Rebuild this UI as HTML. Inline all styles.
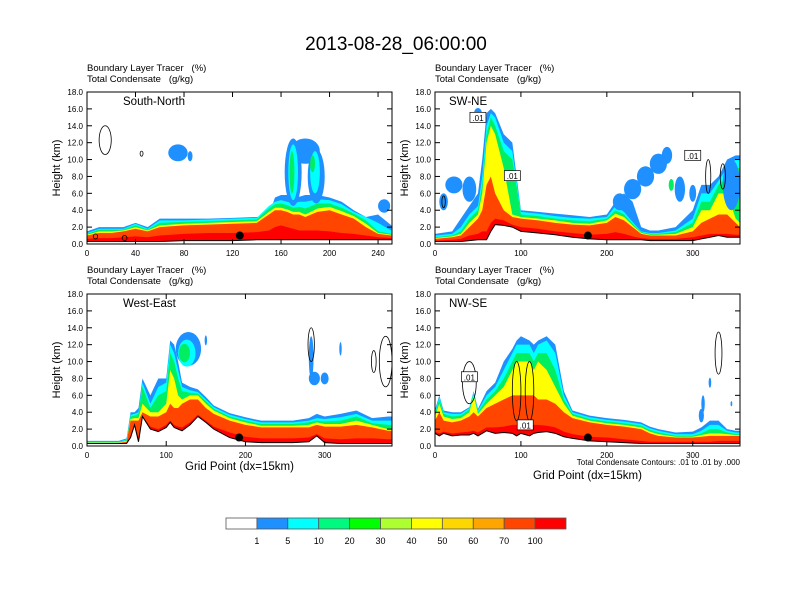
<!DOCTYPE html>
<html><head><meta charset="utf-8"><style>
body{margin:0;background:#fff;}
svg{display:block;font-family:"Liberation Sans",sans-serif;}
text{white-space:pre;}
</style></head><body>
<svg id="fig" width="792" height="612" viewBox="0 0 792 612">
<text x="396" y="50" text-anchor="middle" font-size="19">2013-08-28_06:00:00</text>
<g id="panels"></g>
<g id="cbar"></g>
</svg>
<script>
// ---- data ----
const levelColors = ["#1e90ff","#00ffff","#00ee60","#ffff00","#ff4500","#ff0000"];
const cbarColors = ["#ffffff","#1e90ff","#00ffff","#00fa80","#00ff00","#adff2f","#ffff00","#ffd700","#ffa500","#ff4500","#ff0000"];
const cbarLabels = ["1","5","10","20","30","40","50","60","70","100"];
const yTicks = [0,2,4,6,8,10,12,14,16,18];

// Panel A South-North
const aX = [0,10,20,30,40,50,60,80,100,120,140,150,155,160,165,170,175,180,190,200,210,220,230,240,251];
const aTerrain = [0.3,0.3,0.3,0.3,0.3,0.3,0.3,0.4,0.4,0.4,0.5,0.5,0.5,0.5,0.5,0.5,0.5,0.5,0.5,0.5,0.5,0.5,0.5,0.5,0.5];
const aRed = [0.6,0.7,0.7,0.8,0.9,0.8,1.0,1.2,1.3,1.3,1.4,1.6,2,2.2,2,1.8,1.6,1.6,1.6,1.5,1.3,1.2,1.0,0.8,0.7];
const aOrange = [1.0,1.3,1.3,1.5,1.8,1.5,2.0,2.2,2.3,2.4,2.5,3.5,4,4,3.8,3.5,3.5,3.2,3.8,4,3.5,3,2,1.2,1];
const aYellow = [1.1,1.5,1.5,1.6,2.0,1.6,2.2,2.4,2.5,2.6,2.7,3.8,4.3,4.3,4.1,3.8,3.8,3.5,4.2,4.4,3.9,3.3,2.4,1.3,1.1];
const aGreen = [1.2,1.7,1.7,1.7,2.2,1.7,2.5,2.6,2.7,2.8,2.9,4.2,4.7,4.8,4.6,4.3,4.4,4.2,4.8,4.8,4.3,3.6,2.8,1.5,1.2];
const aCyan = [1.3,1.8,1.8,1.8,2.4,1.8,2.8,2.8,2.9,3.0,3.1,4.5,5.0,5.2,5.0,4.8,5.0,5.0,5.3,5.2,4.7,3.8,3.2,2.5,1.6];
const aBlue = [1.5,2,2,2,2.5,2.0,3.0,3.0,3.0,3.1,3.2,3.4,5.5,5.8,5.8,5.6,5.6,5.8,5.8,5.5,5.0,4.0,3.2,3.5,2.2];
const aBlobs = [[75,10.8,8,1.0,0],[85,10.4,2,0.6,0],[170,8.5,7,4,0],[180,11,12,1.5,0],[189,8,7,3.2,0],[170,8.5,4,3.3,1],[188,8.5,4,2.5,1],[169,8.5,2,2.5,2],[186,9.5,2,1,2],[245,4.5,5,0.8,0]];
const aContours = [[15,12.3,5,1.7],[45,10.7,1.2,0.3],[7,0.9,1.8,0.3],[31,0.7,2,0.3]];

// Panel B SW-NE
const bX = [0,20,30,40,50,55,60,65,70,80,90,100,120,140,160,180,200,210,220,230,240,250,260,280,300,310,320,330,340,350,355];
const bTerrain = [0.3,0.3,0.3,0.4,0.5,0.5,0.5,1.5,2.3,2.2,2.0,1.5,1.3,1.1,0.8,0.6,0.5,0.5,0.5,0.5,0.5,0.4,0.4,0.4,0.4,0.6,0.8,1.0,0.8,0.8,0.8];
const bRed = [0.4,0.5,0.6,1.0,1.2,1.5,1.5,2.5,3,2.8,2.3,2.0,1.8,1.5,1.3,1.1,1.2,1.4,1.2,0.9,0.7,0.6,0.6,0.6,0.8,1.0,1.2,1.2,1.2,1.1,1.1];
const bOrange = [0.6,0.8,1.0,2,3,4,7,8,6,4,3.2,3.0,2.8,2.5,2.3,2.2,2.5,3.2,2.8,2.0,1.2,1.0,1.0,1.0,1.5,2.5,3,3.5,3.5,2.5,2];
const bYellow = [0.7,0.9,1.2,2.5,3.5,6,12,14,13,9,3.5,3.2,3.0,2.8,2.5,2.4,2.8,3.6,3.2,2.2,1.3,1.1,1.1,1.2,2,4,4,6,6,3,2.5];
const bGreen = [0.8,1.0,1.5,3,4,7,13,15,14,11,10,3.5,3.3,3.0,2.8,2.7,3,4,3.5,2.4,1.4,1.2,1.2,1.4,2.5,5,5,7,8,9,9];
const bCyan = [1,1.2,2,3.5,4.5,8,14,15.5,15,12,11,3.8,3.6,3.3,3.1,3,3.2,4.5,3.8,2.6,1.5,1.3,1.3,1.6,3,6,6,7.5,9,10,10];
const bBlue = [1.2,1.5,3,4.5,6,10,15.5,16,15.5,13,12,4,3.8,3.6,3.4,3.2,3.5,5,6,5,2,1.6,1.6,2,4,7,7,8,10,10.5,10.5];
const bBlobs = [[10,5,5,1,0],[40,6.5,8,1.5,0],[22,7,10,1,0],[215,5,8,1,0],[230,6.5,10,1.2,0],[245,8,10,1.2,0],[260,9.5,10,1.2,0],[270,10.5,6,1,0],[285,6.5,6,1.5,0],[300,6,4,1,0],[345,7,10,3,0],[50,15.3,5,0.8,0],[275,7,3,0.7,2]];
const bContours = [[10,5,2,0.7],[318,8,3,2],[335,8,3,1.5]];
const bLabels = [[50,15,".01"],[90,8.1,".01"],[300,10.5,".01"]];

// Panel C West-East
const cX = [0,20,40,50,55,60,65,70,80,90,100,105,110,115,120,130,140,150,160,180,200,220,240,260,280,290,300,320,340,360,380,385];
const cTerrain = [0.3,0.3,0.3,0.3,1.0,2.5,0.5,3.5,2.0,1.7,2.2,2.8,2.2,2.0,1.8,2.5,3.5,2.8,2.0,1.0,0.5,0.4,0.4,0.4,0.5,1.2,0.4,0.3,0.3,0.3,0.3,0.3];
const cRed = [0.3,0.3,0.3,0.35,1.2,2.7,1,3.6,2.3,2.0,2.5,3.0,2.5,2.3,2.2,2.8,3.7,3.0,2.3,1.6,1.1,0.9,0.9,0.9,1.0,1.4,0.9,0.8,0.9,0.9,0.8,0.8];
const cOrange = [0.35,0.35,0.35,0.5,3,3,3,4,3.5,3.5,4,5,4.5,4.5,5,5.5,5.5,4.5,3.8,3,2.5,2.2,2.2,2.2,2.2,2.5,2.3,2.3,2.5,2.2,1.8,1.8];
const cYellow = [0.4,0.4,0.4,0.6,3.2,3.3,3.3,5,4,4,5,9,8,6,5.5,6,6,5,4.2,3.3,2.8,2.4,2.4,2.4,2.5,2.8,2.6,2.6,3,2.5,2,2];
const cGreen = [0.45,0.45,0.45,0.7,3.5,3.6,3.8,7,4.5,6,6.5,11,10,8,6.5,6.3,6.2,5.3,4.4,3.5,3.0,2.6,2.6,2.6,2.8,3,2.9,3,3.5,2.7,2.5,2.5];
const cCyan = [0.5,0.5,0.5,0.8,3.7,3.8,4,7.5,5,7,7.5,12,11,9,7,6.6,6.4,5.5,4.6,3.7,3.2,2.8,2.8,2.8,3,3.3,3.2,3.4,3.8,3,3,3];
const cBlue = [0.6,0.6,0.6,0.9,4,4,4.5,8,6,8,8,12.5,12,10,7.5,7,6.7,5.8,4.8,3.9,3.4,3,3,3,3.3,3.8,3.5,3.8,4.2,3.3,3.5,3.5];
const cBlobs = [[128,11.5,16,2,0],[126,11,11,1.6,1],[123,11,7,1.1,2],[283,10.5,3,2.5,0],[287,8,7,0.8,0],[300,8,5,0.7,0],[320,11.5,1.5,0.8,0],[150,12.5,1.5,0.6,0]];
const cContours = [[283,12,4,2],[362,10,3,1.3],[377,10,8,3]];

// Panel D NW-SE
const dX = [0,5,10,20,30,40,45,50,60,70,80,90,95,100,110,115,120,130,140,150,160,180,200,220,240,250,260,280,300,310,320,330,340,350,355];
const dTerrain = [1.5,1.2,1.5,1.2,1.3,1.3,1.5,1.2,1.8,1.5,1.6,1.5,1.2,1.5,1.2,1.5,1.6,1.7,1.5,1.1,0.9,0.6,0.5,0.4,0.3,0.3,0.3,0.3,0.3,0.3,0.3,0.3,0.3,0.3,0.3];
const dRed = [1.7,1.5,1.7,1.5,1.6,1.7,1.8,1.6,2.2,2.2,2.3,2.5,2.5,2.5,2.5,2.5,2.5,2.4,2.2,1.7,1.4,1.1,1.0,0.8,0.6,0.5,0.5,0.5,0.5,0.5,0.5,0.6,0.6,0.6,0.6];
const dOrange = [3,4,3,2.8,3,3.5,4,3.5,4.5,5,5.5,6,6,6,6,6,5.5,5.5,5,4,3.3,2.8,2.5,2.3,2,1.5,1.2,1.0,1.0,1.1,1.2,1.2,1.2,1.2,1.2];
const dYellow = [3.5,5,3.5,3.2,3.3,4,6,3.8,5,6,7,9,10,10,10,9,10,9,7,5,3.6,3.0,2.7,2.5,2.2,1.7,1.4,1.1,1.1,1.3,1.5,1.5,1.4,1.3,1.3];
const dGreen = [3.8,5.5,3.8,3.5,3.6,4.3,6.2,4,5.5,6.5,8,10,11,11,11,10,11,11,9,5.5,3.8,3.2,2.9,2.7,2.4,1.9,1.6,1.2,1.2,1.5,2,2,1.6,1.4,1.4];
const dCyan = [4,5.8,4,3.8,3.8,4.5,6.4,4.2,6,7,9,11,12,12,12,11,12,12.5,11,6,4.0,3.4,3.1,2.9,2.6,2.1,1.8,1.4,1.4,1.8,2.5,2.5,1.8,1.6,1.6];
const dBlue = [4.3,6,4.2,4,4,4.6,6.5,4.4,6.5,7.5,10,11.5,12.5,13,12.5,12,12.5,13,12,6.5,4.2,3.6,3.3,3.1,2.8,2.3,2.0,1.6,1.7,2.2,3,3,2.0,1.8,1.8];
const dBlobs = [[310,3.6,3,0.8,0],[312,5,2,1,0],[320,7.5,1.5,0.6,0],[345,5,1,0.3,0]];
const dContours = [[40,7.5,8,2.5],[330,11,4,2.5],[95,6.5,5,3.5],[110,6.5,5,3.5]];
const dLabels = [[40,8.2,".01"],[105,2.5,".01"]];

const panels = [
 {name:"south-north",label:"South-North",x0:87,y0:92,xmax:251.5,xt:[0,40,80,120,160,200,240],xs:aX,ter:aTerrain,bands:[aBlue,aCyan,aGreen,aYellow,aOrange,aRed],blobs:aBlobs,cont:aContours,labs:[],dot:[126,1.0],xtitle:false},
 {name:"sw-ne",label:"SW-NE",x0:435,y0:92,xmax:355,xt:[0,100,200,300],xs:bX,ter:bTerrain,bands:[bBlue,bCyan,bGreen,bYellow,bOrange,bRed],blobs:bBlobs,cont:bContours,labs:bLabels,dot:[178,1.0],xtitle:false},
 {name:"west-east",label:"West-East",x0:87,y0:294,xmax:385,xt:[0,100,200,300],xs:cX,ter:cTerrain,bands:[cBlue,cCyan,cGreen,cYellow,cOrange,cRed],blobs:cBlobs,cont:cContours,labs:[],dot:[192,1.0],xtitle:true},
 {name:"nw-se",label:"NW-SE",x0:435,y0:294,xmax:355,xt:[0,100,200,300],xs:dX,ter:dTerrain,bands:[dBlue,dCyan,dGreen,dYellow,dOrange,dRed],blobs:dBlobs,cont:dContours,labs:dLabels,dot:[178,1.0],xtitle:true}
];

const NS="http://www.w3.org/2000/svg";
const W=305,H=152;
function mk(tag,attrs,parent){const e=document.createElementNS(NS,tag);for(const k in attrs)e.setAttribute(k,attrs[k]);parent.appendChild(e);return e;}
const root=document.getElementById('panels');

panels.forEach((p,pi)=>{
 const sx=v=>p.x0+v/p.xmax*W;
 const sy=h=>p.y0+H-h/18*H;
 const g=mk('g',{},root);
 
 
 const defs=mk('defs',{},g);
 const cp=mk('clipPath',{id:'clip'+pi},defs);
 mk('rect',{x:p.x0,y:p.y0,width:W,height:H},cp);
 const t1=mk('text',{x:p.x0,y:p.y0-21,'font-size':9.5},g);t1.textContent="Boundary Layer Tracer   (%)";
 
 
 const t2=mk('text',{x:p.x0,y:p.y0-10,'font-size':9.5},g);t2.textContent="Total Condensate   (g/kg)";
 
 
 const plot=mk('g',{'clip-path':'url(#clip'+pi+')'},g);
 p.bands.forEach((arr,li)=>{
  let d='M'+sx(p.xs[0])+','+sy(p.ter[0]);
  p.xs.forEach((x,i)=>{d+=' L'+sx(x)+','+sy(arr[i]);});
  for(let i=p.xs.length-1;i>=0;i--)d+=' L'+sx(p.xs[i])+','+sy(p.ter[i]);
  const e=mk('path',{d:d+'Z',fill:levelColors[li]},plot);
  
  
 });
 p.blobs.forEach(b=>{
  const e=mk('ellipse',{cx:sx(b[0]),cy:sy(b[1]),rx:b[2]/p.xmax*W,ry:b[3]/18*H,fill:levelColors[b[4]]},plot);
  
  
 });
 let td='';p.xs.forEach((x,i)=>{td+=(i?' L':'M')+sx(x)+','+sy(p.ter[i]);});
 const tl=mk('path',{d:td,fill:'none',stroke:'#000','stroke-width':1},plot);
 
 
 p.cont.forEach(c=>{
  const e=mk('ellipse',{cx:sx(c[0]),cy:sy(c[1]),rx:c[2]/p.xmax*W,ry:c[3]/18*H,fill:'none',stroke:'#000','stroke-width':0.8},plot);
  
  
 });
 p.labs.forEach(l=>{
  const r=mk('rect',{x:sx(l[0])-8,y:sy(l[1])-5,width:16,height:10,fill:'#fff',stroke:'#000','stroke-width':0.7},plot);
  
  
  const t=mk('text',{x:sx(l[0]),y:sy(l[1])+3.5,'font-size':8,'text-anchor':'middle'},plot);t.textContent=l[2];
  
  
 });
 const dot=mk('circle',{cx:sx(p.dot[0]),cy:sy(p.dot[1]),r:4,fill:'#000'},plot);
 
 
 const lab=mk('text',{x:p.x0+(pi%2?14:36),y:p.y0+13,'font-size':11.5},g);lab.textContent=p.label;
 
 
 const fr=mk('rect',{x:p.x0,y:p.y0,width:W,height:H,fill:'none',stroke:'#000','stroke-width':1},g);
 
 
 yTicks.forEach(v=>{
  const y=sy(v);
  mk('line',{x1:p.x0,x2:p.x0+5,y1:y,y2:y,stroke:'#000'},g);
  mk('line',{x1:p.x0+W,x2:p.x0+W-5,y1:y,y2:y,stroke:'#000'},g);
  const t=mk('text',{x:p.x0-4,y:y+3,'font-size':8,'text-anchor':'end'},g);t.textContent=v.toFixed(1);
  
  
 });
 p.xt.forEach(v=>{
  const x=sx(v);
  mk('line',{x1:x,x2:x,y1:p.y0+H,y2:p.y0+H-5,stroke:'#000'},g);
  mk('line',{x1:x,x2:x,y1:p.y0,y2:p.y0+5,stroke:'#000'},g);
  const t=mk('text',{x:x,y:p.y0+H+12,'font-size':8,'text-anchor':'middle'},g);t.textContent=v;
  
  
 });
 const yt=mk('text',{x:0,y:0,'font-size':11,'text-anchor':'middle',transform:'translate('+(p.x0-27)+','+(p.y0+H/2)+') rotate(-90)'},g);yt.textContent="Height (km)";
 
 
 if(p.xtitle){
  const xt=mk('text',{x:p.x0+W/2,y:(pi==3?p.y0+H+33:p.y0+H+24),'font-size':11.5,'text-anchor':'middle'},g);xt.textContent="Grid Point (dx=15km)";
  
  
 }
 if(pi==3){
  const f=mk('text',{x:p.x0+W,y:p.y0+H+19,'font-size':8,'text-anchor':'end'},g);f.textContent="Total Condensate Contours: .01 to .01 by .000";
  
  
 }
});

const cb=document.getElementById('cbar');
const cbx=226,cby=518,cbw=340/11,cbh=11;
cbarColors.forEach((c,i)=>{
 const r=mk('rect',{x:cbx+i*cbw,y:cby,width:cbw,height:cbh,fill:c,stroke:'#555','stroke-width':0.8},cb);
 
 
});
cbarLabels.forEach((l,i)=>{
 const t=mk('text',{x:cbx+(i+1)*cbw,y:cby+26,'font-size':9,'text-anchor':'middle'},cb);t.textContent=l;
 
 
});
</script>
</body></html>
